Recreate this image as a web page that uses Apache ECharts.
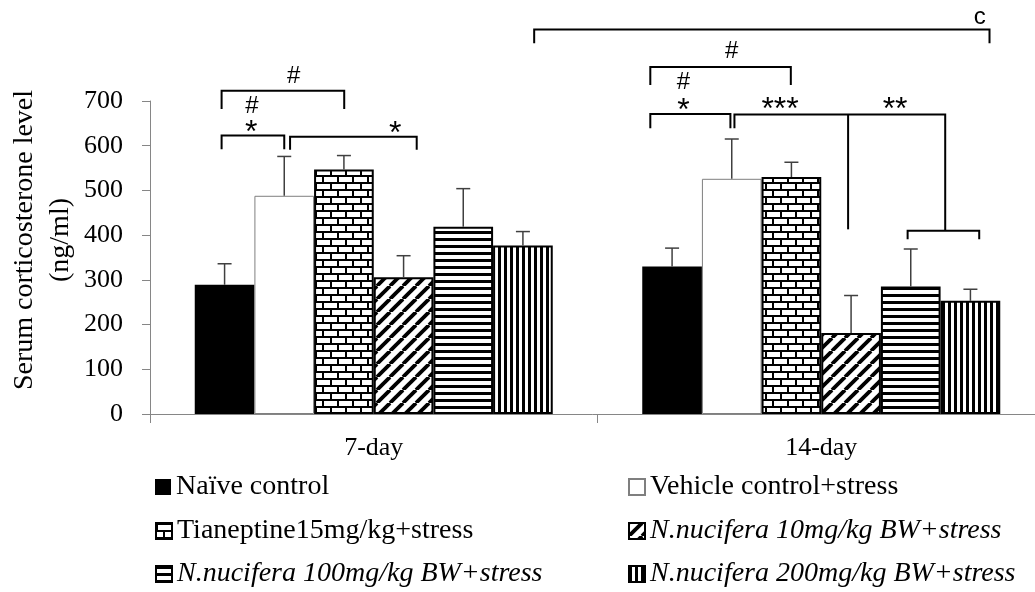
<!DOCTYPE html>
<html><head><meta charset="utf-8">
<script src="https://cdn.jsdelivr.net/npm/echarts@6/dist/echarts.min.js"></script>
<style>html,body{margin:0;padding:0;background:#fff}#c{width:1035px;height:592px}</style>
</head><body><div id="c"></div>
<script>
// ---------- data ----------
const categories = ['7-day', '14-day'];
const seriesNames = ['Naïve control', 'Vehicle control+stress', 'Tianeptine15mg/kg+stress',
  'N.nucifera 10mg/kg BW+stress', 'N.nucifera 100mg/kg BW+stress', 'N.nucifera 200mg/kg BW+stress'];
const naive = [289, 330];
const vehicle = [488, 526];
const tianeptine = [547, 530];
const nn10 = [306, 181];
const nn100 = [419, 285];
const nn200 = [377, 253];
const naiveSD = [47, 41];
const vehicleSD = [88, 89];
const tianeptineSD = [31, 33];
const nn10SD = [48, 84];
const nn100SD = [85, 84];
const nn200SD = [31, 26];
const yMin = 0, yMax = 700, yStep = 100;
const yTitle = 'Serum corticosterone level\n(ng/ml)';
// significance brackets: [x1, x2, yTop, yLeftEnd, yRightEnd]; x in category units (0..2)
const brackets = [
  [0.16, 0.30, 623, 592, 592],
  [0.16, 0.434, 723, 682, 682],
  [0.313, 0.596, 620, 591, 591],
  [1.118, 1.297, 671, 639, 639],
  [1.118, 1.432, 776, 736, 736],
  [1.306, 1.777, 670, 639, 410],
  [1.56, 1.56, 670, 670, 413],
  [1.693, 1.853, 410, 391, 391],
  [0.8585, 1.876, 860, 829, 829]
];
// significance marks: [x, y, text]
const marks = [
  [0.226, 629, '*'],
  [0.228, 688, '#'],
  [0.321, 756, '#'],
  [0.548, 625, '*'],
  [1.192, 677, '*'],
  [1.192, 742, '#'],
  [1.300, 810, '#'],
  [1.408, 680, '***'],
  [1.665, 680, '**'],
  [1.854, 888, 'c']
];

// ---------- patterns ----------
function makeCanvas(w, h, draw) {
  const c = document.createElement('canvas');
  c.width = w; c.height = h;
  const ctx = c.getContext('2d');
  ctx.fillStyle = '#fff'; ctx.fillRect(0, 0, w, h);
  ctx.fillStyle = '#000'; ctx.strokeStyle = '#000';
  draw(ctx, w, h);
  return c;
}
const brick = makeCanvas(15, 14, (ctx) => {
  ctx.fillRect(0, 0, 15, 2); ctx.fillRect(0, 7, 15, 2);
  ctx.fillRect(0, 0, 2, 7); ctx.fillRect(7, 7, 2, 7);
});
const diag = makeCanvas(13, 13, (ctx, s) => {
  ctx.lineWidth = 3.8;
  for (let k = -1; k <= 1; k++) { ctx.beginPath(); ctx.moveTo(k * s, s); ctx.lineTo(k * s + s, 0); ctx.stroke(); }
});
const hstripe = makeCanvas(4, 7, (ctx) => { ctx.fillRect(0, 0, 4, 3); });
const vstripe = makeCanvas(6, 4, (ctx) => { ctx.fillRect(0, 0, 3, 4); });
const pat = (img) => ({ image: img, repeat: 'repeat' });

const serif = 'Liberation Serif';
const values = [naive, vehicle, tianeptine, nn10, nn100, nn200];
const sds = [naiveSD, vehicleSD, tianeptineSD, nn10SD, nn100SD, nn200SD];
const styles = [
  { color: '#000', borderWidth: 0 },
  { color: '#fff', borderColor: '#7f7f7f', borderWidth: 1 },
  { color: pat(brick), borderColor: '#000', borderWidth: 2 },
  { color: pat(diag), borderColor: '#000', borderWidth: 2 },
  { color: pat(hstripe), borderColor: '#000', borderWidth: 2 },
  { color: pat(vstripe), borderColor: '#000', borderWidth: 2 }
];

const barSeries = seriesNames.map((n, i) => ({
  name: n, type: 'bar', data: values[i], barGap: '0%', barCategoryGap: '20%',
  itemStyle: styles[i], emphasis: { disabled: true }, z: 2
}));

const errData = [];
values.forEach((arr, i) => arr.forEach((v, c) => errData.push([c, i, v, sds[i][c]])));

function renderErr(params, api) {
  const c = api.value(0), idx = api.value(1), mean = api.value(2), sd = api.value(3);
  const bw = api.size([1, 0])[0];
  const base = api.coord([c, mean]);
  const top = api.coord([c, mean + sd]);
  const x = base[0] - 0.4 * bw + (idx + 0.5) * bw * 0.8 / 6;
  const st = { stroke: '#404040', lineWidth: 1.5 };
  return { type: 'group', children: [
    { type: 'line', shape: { x1: x, y1: base[1], x2: x, y2: top[1] }, style: st },
    { type: 'line', shape: { x1: x - 7, y1: top[1], x2: x + 7, y2: top[1] }, style: st }
  ]};
}
function renderBracket(params, api) {
  const x1 = api.value(0), x2 = api.value(1), y = api.value(2), yl = api.value(3), yr = api.value(4);
  const p = [api.coord([x1, yl]), api.coord([x1, y]), api.coord([x2, y]), api.coord([x2, yr])];
  return { type: 'polyline', shape: { points: p }, style: { stroke: '#000', lineWidth: 2, fill: null } };
}
function renderMark(params, api) {
  const p = api.coord([api.value(0), api.value(1)]);
  const t = marks[params.dataIndex][2];
  const star = t.indexOf('*') >= 0;
  return { type: 'text', x: p[0], y: p[1], style: { text: t, fill: '#000',
    font: (star ? '32px' : '24px') + ' "Liberation Sans"', align: 'center', verticalAlign: 'middle' } };
}

const legendPos = [[155, 473], [628, 473], [155, 517], [628, 517], [155, 560], [628, 560]];
const legends = seriesNames.map((n, i) => ({
  data: [n], left: legendPos[i][0], top: legendPos[i][1], orient: 'horizontal', icon: 'rect',
  itemWidth: 16, itemHeight: 16, selectedMode: false, padding: 0,
  textStyle: { fontFamily: serif, fontSize: 28, color: '#000', fontStyle: i >= 3 ? 'italic' : 'normal' }
}));

const chart = echarts.init(document.getElementById('c'), null, { renderer: 'canvas' });
chart.setOption({
  animation: false,
  backgroundColor: '#fff',
  grid: { left: 150, right: -10, top: 101, bottom: 178, containLabel: false, outerBoundsMode: 'none' },
  legend: legends,
  xAxis: [
    { type: 'category', data: categories,
      axisLine: { lineStyle: { color: '#868686', width: 1 } },
      axisTick: { show: true, length: 9, lineStyle: { color: '#868686' } },
      axisLabel: { fontFamily: serif, fontSize: 26, color: '#000', margin: 21 } },
    { type: 'value', min: 0, max: 2, show: false }
  ],
  yAxis: {
    type: 'value', min: yMin, max: yMax, interval: yStep,
    axisLine: { show: true, lineStyle: { color: '#868686', width: 1 } },
    axisTick: { show: true, length: 8, lineStyle: { color: '#868686' } },
    splitLine: { show: false },
    axisLabel: { fontFamily: serif, fontSize: 26, color: '#000', margin: 27 }
  },
  graphic: [{
    type: 'text', x: 43, y: 240, rotation: Math.PI / 2,
    style: { text: yTitle, fill: '#000', font: '28px "Liberation Serif"', lineHeight: 36,
      align: 'center', verticalAlign: 'middle' }
  }],
  series: barSeries.concat([
    { type: 'custom', name: 'err', renderItem: renderErr, data: errData, encode: { x: 0, y: 2 }, z: 3, silent: true },
    { type: 'custom', name: 'brackets', xAxisIndex: 1, renderItem: renderBracket, data: brackets,
      encode: { x: [0, 1], y: [2, 3, 4] }, z: 4, silent: true, clip: false },
    { type: 'custom', name: 'marks', xAxisIndex: 1, renderItem: renderMark, data: marks.map(m => [m[0], m[1]]),
      encode: { x: 0, y: 1 }, z: 4, silent: true, clip: false }
  ])
});
</script></body></html>
